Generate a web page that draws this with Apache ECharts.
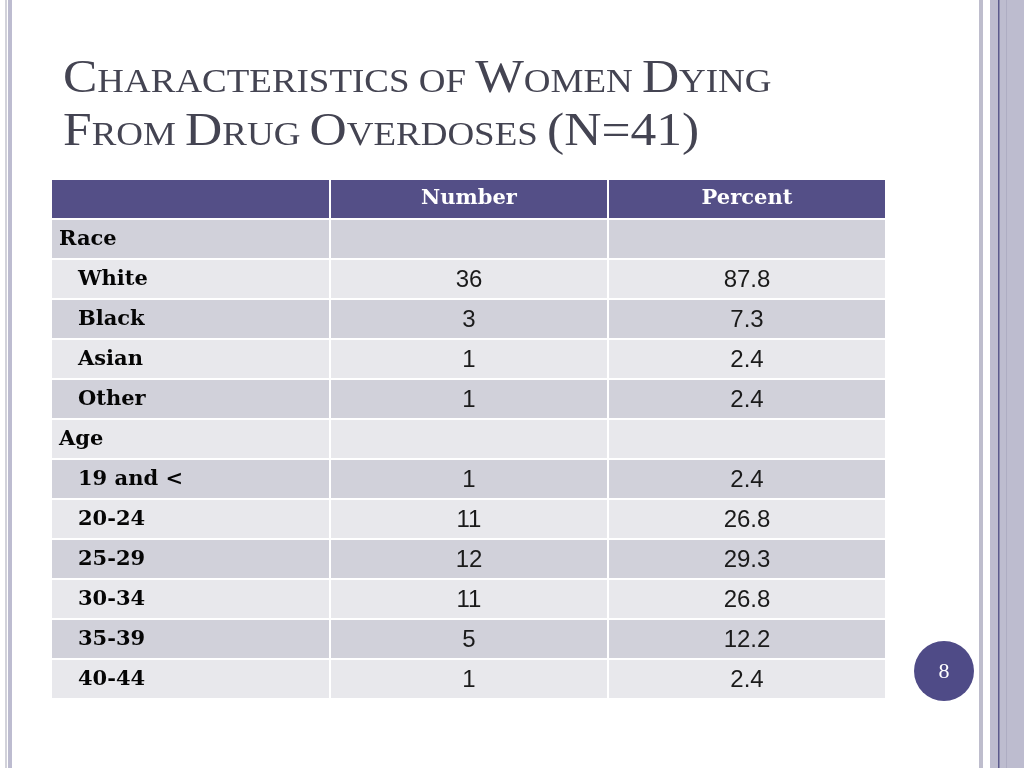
<!DOCTYPE html>
<html>
<head>
<meta charset="utf-8">
<script src="https://cdn.jsdelivr.net/npm/echarts@6/dist/echarts.min.js"></script>
<style>
html,body{margin:0;padding:0;background:#fff;}
#chart{width:1024px;height:768px;}
</style>
</head>
<body>
<div id="chart"></div>
<script>
// ---- data ----
const columnHeaders = ['', 'Number', 'Percent'];
const rowLabels = ['Race', 'White', 'Black', 'Asian', 'Other', 'Age', '19 and <', '20-24', '25-29', '30-34', '35-39', '40-44'];
const groupLabels = ['Race', 'Age'];
const numbers = [null, 36, 3, 1, 1, null, 1, 11, 12, 11, 5, 1];
const percents = [null, 87.8, 7.3, 2.4, 2.4, null, 2.4, 26.8, 29.3, 26.8, 12.2, 2.4];
const pageNumber = '8';

// ---- build table cells ----
const yCats = ['header'].concat(rowLabels);
const cells = [];
columnHeaders.forEach(function (h, c) { cells.push([c, 0, h, 'header']); });
rowLabels.forEach(function (lab, i) {
  const r = i + 1;
  cells.push([0, r, lab, groupLabels.indexOf(lab) >= 0 ? 'group' : 'sub']);
  cells.push([1, r, numbers[i] == null ? '' : String(numbers[i]), 'num']);
  cells.push([2, r, percents[i] == null ? '' : percents[i].toFixed(1), 'num']);
});

const HEADER = '#544f87', DARK = '#d1d1da', LIGHT = '#e8e8ec';

function renderItem(params, api) {
  const c = api.value(0), r = api.value(1);
  const d = cells[params.dataIndex];
  const center = api.coord([c, r]);
  const size = api.size([1, 1]);
  const x0 = center[0] - size[0] / 2, y0 = center[1] - size[1] / 2;
  const w = size[0], h = size[1];
  let fill = r === 0 ? HEADER : (r % 2 === 1 ? DARK : LIGHT);
  const rect = {
    type: 'rect',
    shape: { x: x0 + (c === 0 ? 0 : 1), y: y0, width: w - (c === 0 ? 1 : 2), height: h - 2 },
    style: { fill: fill }
  };
  const kind = d[3];
  const cy = y0 + (h - 2) / 2 + 1;
  let textStyle;
  if (kind === 'header') {
    textStyle = { text: d[2], x: center[0], y: cy - 1, align: 'center', verticalAlign: 'middle',
      fontFamily: 'DejaVu Serif', fontWeight: 'bold', fontSize: 21, fill: '#ffffff' };
  } else if (kind === 'group') {
    textStyle = { text: d[2], x: x0 + 7, y: cy, align: 'left', verticalAlign: 'middle',
      fontFamily: 'DejaVu Serif', fontWeight: 'bold', fontSize: 21, fill: '#050505' };
  } else if (kind === 'sub') {
    textStyle = { text: d[2], x: x0 + 26, y: cy, align: 'left', verticalAlign: 'middle',
      fontFamily: 'DejaVu Serif', fontWeight: 'bold', fontSize: 21, fill: '#050505' };
  } else {
    textStyle = { text: d[2], x: center[0], y: cy, align: 'center', verticalAlign: 'middle',
      fontFamily: 'Liberation Sans', fontSize: 24, fill: '#1a1a1a' };
  }
  return { type: 'group', children: [rect, { type: 'text', style: textStyle }] };
}

const big = { fontFamily: 'Liberation Serif', fontWeight: 'normal', fontSize: 46, fill: '#444452', lineHeight: 53, verticalAlign: 'bottom' };
const small = { fontFamily: 'Liberation Serif', fontWeight: 'normal', fontSize: 33, fill: '#444452', lineHeight: 53, verticalAlign: 'bottom', padding: [0, 0, 3, 0] };

const chart = echarts.init(document.getElementById('chart'), null, { renderer: 'canvas' });
chart.setOption({
  backgroundColor: '#ffffff',
  animation: false,
  grid: { left: 52, right: 138, top: 180, bottom: 68 },
  xAxis: { type: 'category', data: [0, 1, 2], show: false },
  yAxis: { type: 'category', data: yCats, inverse: true, show: false },
  series: [{
    type: 'custom',
    renderItem: renderItem,
    data: cells.map(function (d) { return [d[0], d[1]]; }),
    silent: true
  }],
  graphic: [
    { type: 'text', x: 63, y: 50, scaleX: 1.12, style: {
      text: '{b|C}{s|HARACTERISTICS OF }{b|W}{s|OMEN }{b|D}{s|YING}\n{b|F}{s|ROM }{b|D}{s|RUG }{b|O}{s|VERDOSES }{b|(N=41)}',
      rich: { b: big, s: small } } },
    { type: 'rect', shape: { x: 5, y: 0, width: 2, height: 768 }, style: { fill: '#d2d2da' } },
    { type: 'rect', shape: { x: 8, y: 0, width: 4, height: 768 }, style: { fill: '#bdbcd0' } },
    { type: 'rect', shape: { x: 979, y: 0, width: 4, height: 768 }, style: { fill: '#bebdcd' } },
    { type: 'rect', shape: { x: 990, y: 0, width: 34, height: 768 }, style: { fill: '#bdbccf' } },
    { type: 'rect', shape: { x: 998, y: 0, width: 1.5, height: 768 }, style: { fill: '#5b5a8c' } },
    { type: 'rect', shape: { x: 1006, y: 0, width: 1, height: 768 }, style: { fill: '#aeadc3' } },
    { type: 'circle', shape: { cx: 944, cy: 671, r: 30 }, style: { fill: '#4f4b87' } },
    { type: 'text', x: 944, y: 672, style: { text: pageNumber, align: 'center', verticalAlign: 'middle',
      fontFamily: 'Liberation Serif', fontSize: 22, fill: '#ffffff' } }
  ]
});
</script>
</body>
</html>
